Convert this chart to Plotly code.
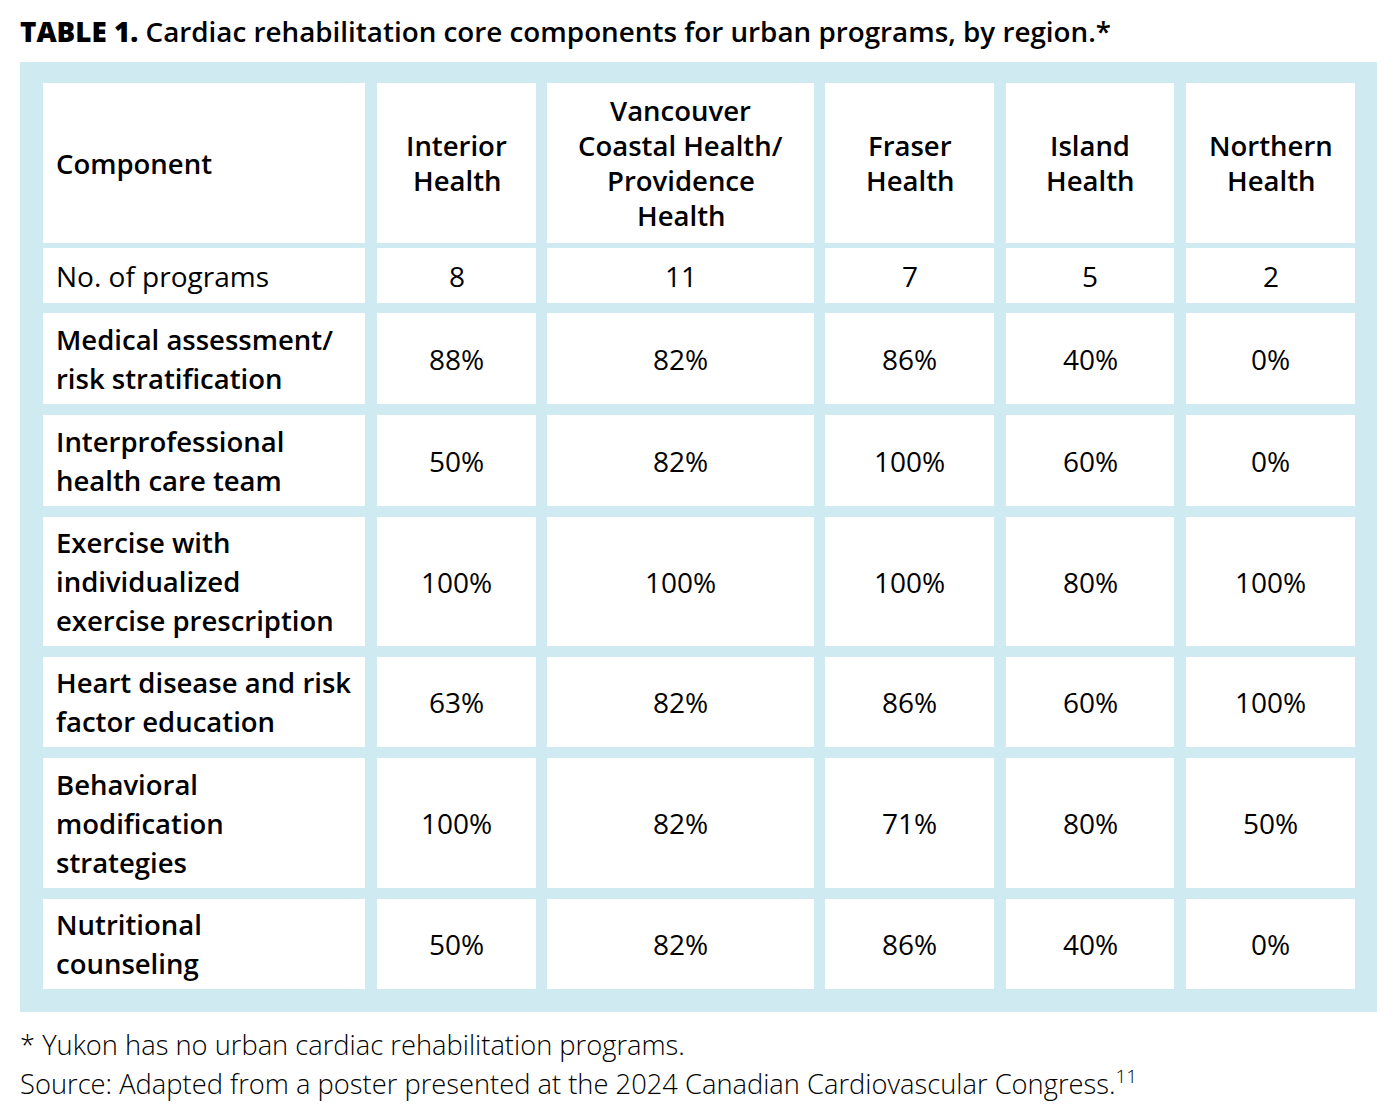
import plotly.graph_objects as go

# table content
header_labels = ["Component", "Interior<br>Health", "Vancouver<br>Coastal Health/<br>Providence<br>Health",
                 "Fraser<br>Health", "Island<br>Health", "Northern<br>Health"]
programs_label = "No. of programs"
programs = [8, 11, 7, 5, 2]
components = ["Medical assessment/<br>risk stratification",
              "Interprofessional<br>health care team",
              "Exercise with<br>individualized<br>exercise prescription",
              "Heart disease and risk<br>factor education",
              "Behavioral<br>modification<br>strategies",
              "Nutritional<br>counseling"]
interior = [88, 50, 100, 63, 100, 50]
vancouver = [82, 82, 100, 82, 82, 82]
fraser = [86, 100, 100, 86, 71, 86]
island = [40, 60, 80, 60, 80, 40]
northern = [0, 0, 100, 100, 50, 0]

title_bold = "TABLE 1."
title_rest = "Cardiac rehabilitation core components for urban programs, by region.*"
note1 = "* Yukon has no urban cardiac rehabilitation programs."
note2 = "Source: Adapted from a poster presented at the 2024 Canadian Cardiovascular Congress.<sup>11</sup>"

# layout of the grid (pixels)
BLUE = "#cfebf1"
FONT = "Open Sans"
OFF = 8  # page body margin
col_edges = [(43, 365), (377, 536), (547, 814), (825, 994), (1006, 1174), (1186, 1355)]
row_edges = [(83, 243), (248, 303), (313, 404), (415, 506), (517, 646),
             (657, 747), (758, 888), (899, 989)]

fig = go.Figure()
fig.add_trace(go.Scatter(x=[700], y=[500], mode="markers", marker=dict(opacity=0),
                         hoverinfo="skip", showlegend=False))

shapes = [dict(type="rect", x0=20, x1=1377, y0=62, y1=1012, fillcolor=BLUE,
               line=dict(width=0), layer="below")]
for r0, r1 in row_edges:
    for c0, c1 in col_edges:
        shapes.append(dict(type="rect", x0=c0, x1=c1, y0=r0, y1=r1, fillcolor="white",
                           line=dict(width=0), layer="below"))

annotations = []


def cell_text(text, row, col, bold, spacing, align="center"):
    lines = text.split("<br>")
    r0, r1 = row_edges[row]
    c0, c1 = col_edges[col]
    yc = (r0 + r1) / 2
    for i, line in enumerate(lines):
        y = yc + (i - (len(lines) - 1) / 2) * spacing
        if align == "left":
            x, xa = c0 + 11, "left"
        else:
            x, xa = (c0 + c1) / 2, "center"
        annotations.append(dict(x=x, y=y, xref="x", yref="y", text=line, showarrow=False,
                                xanchor=xa, yanchor="middle",
                                font=dict(family=FONT, size=27.5 if bold else 28, color="black",
                                          weight=600 if bold else 400)))


for j, h in enumerate(header_labels):
    cell_text(h, 0, j, True, 35, "left" if j == 0 else "center")

cell_text(programs_label, 1, 0, False, 39, "left")
for j, n in enumerate(programs):
    cell_text(str(n), 1, j + 1, False, 39)

region_values = [interior, vancouver, fraser, island, northern]
for i, comp in enumerate(components):
    cell_text(comp, i + 2, 0, True, 39, "left")
    for j, vals in enumerate(region_values):
        cell_text(f"{vals[i]}%", i + 2, j + 1, False, 39)

annotations.append(dict(x=18, y=31, xref="x", yref="y", showarrow=False, xanchor="left",
                        yanchor="middle",
                        text=f"<span style='font-weight:900'>{title_bold}</span> {title_rest}",
                        font=dict(family=FONT, size=27.8, color="black", weight=600)))
for y, t in [(1044, note1), (1082, note2)]:
    annotations.append(dict(x=18, y=y, xref="x", yref="y", showarrow=False, xanchor="left",
                            yanchor="middle", text=t,
                            font=dict(family=FONT, size=27.3, color="black", weight=300)))

fig.update_layout(
    width=1400, height=1114,
    margin=dict(l=0, r=0, t=0, b=0),
    paper_bgcolor="white", plot_bgcolor="white",
    xaxis=dict(range=[OFF, 1400 + OFF], visible=False, fixedrange=True),
    yaxis=dict(range=[1114 + OFF, OFF], visible=False, fixedrange=True),
    shapes=shapes, annotations=annotations,
)
fig.write_html("out.html", config={"displayModeBar": False})
